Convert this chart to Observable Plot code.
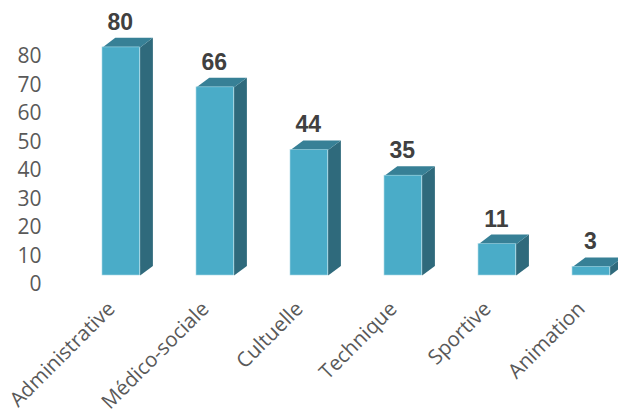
<!DOCTYPE html>
<html lang="fr">
<head>
<meta charset="utf-8">
<script src="https://cdn.jsdelivr.net/npm/d3@7"></script>
<script src="https://cdn.jsdelivr.net/npm/@observablehq/plot@0.6"></script>
<style>
  html, body { margin: 0; padding: 0; background: #fff; overflow: hidden; }
  svg { display: block; }
</style>
</head>
<body>
<script>
// Associations by field of activity
const categories = ["Administrative", "Médico-sociale", "Cultuelle", "Technique", "Sportive", "Animation"];
const counts = [80, 66, 44, 35, 11, 3];
const yTicks = [0, 10, 20, 30, 40, 50, 60, 70, 80];

// Box proportions, in scale units: x counts category slots, y counts associations
const barWidth = 0.4;
const depthX = 0.136;
const depthY = 3.35;

const bars = categories.map((category, i) => ({category, i, count: counts[i]}));

// The two receding faces of each box, as closed outlines
const topFaces = bars.flatMap(({i, count}) => [
  {id: i, x: i, y: count},
  {id: i, x: i + barWidth, y: count},
  {id: i, x: i + barWidth + depthX, y: count + depthY},
  {id: i, x: i + depthX, y: count + depthY},
  {id: i, x: i, y: count}
]);
const sideFaces = bars.flatMap(({i, count}) => [
  {id: i, x: i + barWidth, y: 0},
  {id: i, x: i + barWidth + depthX, y: depthY},
  {id: i, x: i + barWidth + depthX, y: count + depthY},
  {id: i, x: i + barWidth, y: count},
  {id: i, x: i + barWidth, y: 0}
]);

const chart = Plot.plot({
  width: 618,
  height: 416,
  marginLeft: 102,
  marginRight: 0,
  marginTop: 1,
  marginBottom: 141,
  x: {type: "linear", domain: [0, 5.489]},
  y: {type: "linear", domain: [0, 96.1]},
  marks: [
    Plot.axisY({
      ticks: yTicks,
      tickSize: 0,
      anchor: "left",
      dx: -61,
      dy: 9,
      tickPadding: 0,
      label: null,
      fontSize: 21,
      fontFamily: "Open Sans",
      color: "#595959"
    }),
    Plot.axisX({
      ticks: d3.range(categories.length),
      tickFormat: (i) => categories[i],
      tickSize: 0,
      tickRotate: -45,
      tickPadding: 0,
      dx: 9,
      dy: 30,
      label: null,
      fontSize: 20.5,
      fontFamily: "Open Sans",
      color: "#595959"
    }),
    Plot.line(sideFaces, {x: "x", y: "y", z: "id", fill: "#2f6a7c", stroke: "none"}),
    Plot.line(topFaces, {x: "x", y: "y", z: "id", fill: "#378096", stroke: "none"}),
    Plot.rect(bars, {
      x1: "i",
      x2: (d) => d.i + barWidth,
      y1: 0,
      y2: "count",
      fill: "#4aacc8",
      stroke: "#a9d9e6",
      strokeWidth: 0.6,
      inset: 0
    }),
    Plot.text(bars, {
      x: (d) => d.i + barWidth / 2,
      y: "count",
      text: "count",
      dx: -1,
      dy: -25,
      fontSize: 23,
      fontWeight: "bold",
      fontFamily: "Liberation Sans",
      fill: "#404040"
    })
  ]
});
document.body.appendChild(chart);
</script>
</body>
</html>
